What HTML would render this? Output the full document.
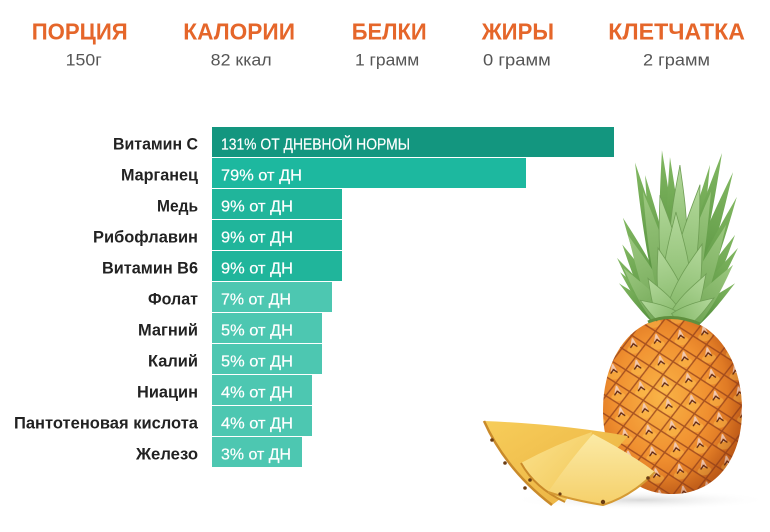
<!DOCTYPE html>
<html>
<head>
<meta charset="utf-8">
<style>
  html,body{margin:0;padding:0;background:#fff;}
  svg{display:block;}
</style>
</head>
<body>
<svg width="770" height="532" viewBox="0 0 770 532" xmlns="http://www.w3.org/2000/svg">
  <defs>
    <radialGradient id="body" cx="0.42" cy="0.45" r="0.62">
      <stop offset="0" stop-color="#f9b447"/>
      <stop offset="0.55" stop-color="#f09030"/>
      <stop offset="1" stop-color="#cf6419"/>
    </radialGradient>
    <radialGradient id="rim" cx="0.45" cy="0.45" r="0.55">
      <stop offset="0.75" stop-color="#7a2e0c" stop-opacity="0"/>
      <stop offset="1" stop-color="#7a2e0c" stop-opacity="0.25"/>
    </radialGradient>
    <pattern id="eyes" patternUnits="userSpaceOnUse" width="24" height="22" patternTransform="rotate(-10)">
      <ellipse cx="12" cy="14" rx="7" ry="4.5" fill="#ffc450" opacity="0.45"/>
      <path d="M12,0 L24,11 L12,22 L0,11 Z" fill="none" stroke="#93401a" stroke-width="1.4" opacity="0.8"/>
      <path d="M12,3 L9.5,10 M12,3 L14.5,10 M12,3 L12,11" stroke="#f1c8b2" stroke-width="1.2" fill="none"/>
      <path d="M8.5,12 L12,8.5 L15.5,12" stroke="#5a2410" stroke-width="1.3" fill="none"/>
    </pattern>
    <linearGradient id="leafD" x1="0" y1="1" x2="0" y2="0">
      <stop offset="0" stop-color="#4e8a38"/>
      <stop offset="1" stop-color="#82b862"/>
    </linearGradient>
    <linearGradient id="leafM" x1="0" y1="1" x2="0" y2="0">
      <stop offset="0" stop-color="#6ea452"/>
      <stop offset="1" stop-color="#9cc880"/>
    </linearGradient>
    <linearGradient id="leafL" x1="0" y1="1" x2="0" y2="0">
      <stop offset="0" stop-color="#86b96a"/>
      <stop offset="1" stop-color="#b4d99c"/>
    </linearGradient>
    <linearGradient id="sliceA" x1="0" y1="0" x2="1" y2="1">
      <stop offset="0" stop-color="#f7cd5a"/>
      <stop offset="1" stop-color="#eab040"/>
    </linearGradient>
    <linearGradient id="sliceB" x1="0" y1="0" x2="1" y2="1">
      <stop offset="0" stop-color="#fae28e"/>
      <stop offset="1" stop-color="#f3c654"/>
    </linearGradient>
    <linearGradient id="sliceC" x1="0" y1="0" x2="0" y2="1">
      <stop offset="0" stop-color="#fbeaa6"/>
      <stop offset="1" stop-color="#f5d06a"/>
    </linearGradient>
    <radialGradient id="shadow" cx="0.5" cy="0.5" r="0.5">
      <stop offset="0" stop-color="#cfcfcf" stop-opacity="0.8"/>
      <stop offset="1" stop-color="#ffffff" stop-opacity="0"/>
    </radialGradient>
    <clipPath id="bodyClip">
      <path d="M672,318 C715,318 742,360 742,410 C742,460 715,494 672,494 C628,494 603,460 603,410 C603,360 630,318 672,318 Z"/>
    </clipPath>
  </defs>

  <!-- Header -->
  <g font-family="'Liberation Sans', sans-serif" font-weight="bold" font-size="23" fill="#e5662a">
    <text x="31.7" y="39.3" textLength="96" lengthAdjust="spacingAndGlyphs">ПОРЦИЯ</text>
    <text x="183.3" y="39.3" textLength="111.7" lengthAdjust="spacingAndGlyphs">КАЛОРИИ</text>
    <text x="351.7" y="39.3" textLength="75" lengthAdjust="spacingAndGlyphs">БЕЛКИ</text>
    <text x="481.7" y="39.3" textLength="72.3" lengthAdjust="spacingAndGlyphs">ЖИРЫ</text>
    <text x="608.3" y="39.3" textLength="136.7" lengthAdjust="spacingAndGlyphs">КЛЕТЧАТКА</text>
  </g>
  <g font-family="'Liberation Sans', sans-serif" font-size="17" fill="#555">
    <text x="65.7" y="65.7" textLength="36" lengthAdjust="spacingAndGlyphs">150г</text>
    <text x="210.7" y="65.7" textLength="61" lengthAdjust="spacingAndGlyphs">82 ккал</text>
    <text x="355" y="65.7" textLength="64.3" lengthAdjust="spacingAndGlyphs">1 грамм</text>
    <text x="483" y="65.7" textLength="67.7" lengthAdjust="spacingAndGlyphs">0 грамм</text>
    <text x="643" y="65.7" textLength="67" lengthAdjust="spacingAndGlyphs">2 грамм</text>
  </g>

  <!-- Bars -->
  <rect x="212" y="127" width="402" height="30" fill="#13967f"/>
  <rect x="212" y="158" width="314" height="30" fill="#1db89f"/>
  <rect x="212" y="189" width="130" height="30" fill="#20b59b"/>
  <rect x="212" y="220" width="130" height="30" fill="#20b59b"/>
  <rect x="212" y="251" width="130" height="30" fill="#20b59b"/>
  <rect x="212" y="282" width="120" height="30" fill="#4dc7b1"/>
  <rect x="212" y="313" width="110" height="30" fill="#4dc7b1"/>
  <rect x="212" y="344" width="110" height="30" fill="#4dc7b1"/>
  <rect x="212" y="375" width="100" height="30" fill="#4dc7b1"/>
  <rect x="212" y="406" width="100" height="30" fill="#4dc7b1"/>
  <rect x="212" y="437" width="90" height="30" fill="#4dc7b1"/>

  <!-- Bar labels (white) -->
  <g font-family="'Liberation Sans', sans-serif" font-size="16" fill="#fff" stroke="#fff" stroke-width="0.2">
    <text x="221" y="149.3" textLength="189" lengthAdjust="spacingAndGlyphs">131% ОТ ДНЕВНОЙ НОРМЫ</text>
    <text x="221" y="180.3" textLength="81" lengthAdjust="spacingAndGlyphs">79% от ДН</text>
    <text x="221" y="211.3" textLength="72" lengthAdjust="spacingAndGlyphs">9% от ДН</text>
    <text x="221" y="242.3" textLength="72" lengthAdjust="spacingAndGlyphs">9% от ДН</text>
    <text x="221" y="273.3" textLength="72" lengthAdjust="spacingAndGlyphs">9% от ДН</text>
    <text x="221" y="304.3" textLength="70" lengthAdjust="spacingAndGlyphs">7% от ДН</text>
    <text x="221" y="335.3" textLength="72" lengthAdjust="spacingAndGlyphs">5% от ДН</text>
    <text x="221" y="366.3" textLength="72" lengthAdjust="spacingAndGlyphs">5% от ДН</text>
    <text x="221" y="397.3" textLength="72" lengthAdjust="spacingAndGlyphs">4% от ДН</text>
    <text x="221" y="428.3" textLength="72" lengthAdjust="spacingAndGlyphs">4% от ДН</text>
    <text x="221" y="459.3" textLength="70" lengthAdjust="spacingAndGlyphs">3% от ДН</text>
  </g>

  <!-- Category labels -->
  <g font-family="'Liberation Sans', sans-serif" font-weight="bold" font-size="17" fill="#222">
    <text x="113" y="149.3" textLength="85" lengthAdjust="spacingAndGlyphs">Витамин С</text>
    <text x="121" y="180.3" textLength="77" lengthAdjust="spacingAndGlyphs">Марганец</text>
    <text x="157" y="211.3" textLength="41" lengthAdjust="spacingAndGlyphs">Медь</text>
    <text x="93" y="242.3" textLength="105" lengthAdjust="spacingAndGlyphs">Рибофлавин</text>
    <text x="102" y="273.3" textLength="96" lengthAdjust="spacingAndGlyphs">Витамин В6</text>
    <text x="148" y="304.3" textLength="50" lengthAdjust="spacingAndGlyphs">Фолат</text>
    <text x="138" y="335.3" textLength="60" lengthAdjust="spacingAndGlyphs">Магний</text>
    <text x="148" y="366.3" textLength="50" lengthAdjust="spacingAndGlyphs">Калий</text>
    <text x="137" y="397.3" textLength="61" lengthAdjust="spacingAndGlyphs">Ниацин</text>
    <text x="14" y="428.3" textLength="184" lengthAdjust="spacingAndGlyphs">Пантотеновая кислота</text>
    <text x="136" y="459.3" textLength="62" lengthAdjust="spacingAndGlyphs">Железо</text>
  </g>

  <!-- Pineapple shadow -->
  <ellipse cx="640" cy="500" rx="130" ry="10" fill="url(#shadow)"/>

  <!-- Crown: dark outer leaves (wider) -->
  <g fill="url(#leafD)">
    <path transform="translate(660,320) rotate(-34.7)" d="M-8,0 C-8,-34 -2.5,-60 0,-75.5 C2.5,-60 8,-34 8,0 Z"/>
    <path transform="translate(662,322) rotate(-40)" d="M-8,0 C-8,-29 -2.5,-52 0,-65 C2.5,-52 8,-29 8,0 Z"/>
    <path transform="translate(664,310) rotate(-24)" d="M-9,0 C-9,-45 -3,-80 0,-101 C3,-80 9,-45 9,0 Z"/>
    <path transform="translate(663,318) rotate(-29)" d="M-9,0 C-9,-38 -3,-67 0,-84 C3,-67 9,-38 9,0 Z"/>
    <path transform="translate(666,300) rotate(-12.7)" d="M-9,0 C-9,-63 -3,-113 0,-141 C3,-113 9,-63 9,0 Z"/>
    <path transform="translate(668,300) rotate(-10.4)" d="M-9,0 C-9,-57 -3,-101 0,-127 C3,-101 9,-57 9,0 Z"/>
    <path transform="translate(670,290) rotate(-3.3)" d="M-9,0 C-9,-63 -3,-112 0,-140 C3,-112 9,-63 9,0 Z"/>
    <path transform="translate(676,290) rotate(-2.6)" d="M-9,0 C-9,-60 -3,-106 0,-133 C3,-106 9,-60 9,0 Z"/>
    <path transform="translate(682,300) rotate(11.7)" d="M-9,0 C-9,-62 -3,-110 0,-138 C3,-110 9,-62 9,0 Z"/>
    <path transform="translate(684,295) rotate(15)" d="M-9,0 C-9,-66 -3,-118 0,-147 C3,-118 9,-66 9,0 Z"/>
    <path transform="translate(686,305) rotate(19.5)" d="M-9,0 C-9,-63 -3,-113 0,-141 C3,-113 9,-63 9,0 Z"/>
    <path transform="translate(688,312) rotate(23)" d="M-9,0 C-9,-56 -3,-100 0,-125 C3,-100 9,-56 9,0 Z"/>
    <path transform="translate(689,318) rotate(29)" d="M-9,0 C-9,-43 -3,-76 0,-95 C3,-76 9,-43 9,0 Z"/>
    <path transform="translate(690,318) rotate(34.4)" d="M-8,0 C-8,-38 -2.5,-68 0,-85 C2.5,-68 8,-38 8,0 Z"/>
    <path transform="translate(690,322) rotate(36.5)" d="M-8,0 C-8,-30 -2.5,-54 0,-67 C2.5,-54 8,-30 8,0 Z"/>
    <path transform="translate(662,322) rotate(-48)" d="M-7,0 C-7,-25 -2,-45 0,-58 C2,-45 7,-25 7,0 Z"/>
    <path transform="translate(692,322) rotate(48)" d="M-7,0 C-7,-25 -2,-45 0,-58 C2,-45 7,-25 7,0 Z"/>
  </g>
  <!-- Crown: medium leaves -->
  <g fill="url(#leafM)">
    <path transform="translate(665,315) rotate(-24.8)" d="M-11,0 C-11,-40 -3,-70 0,-88 C3,-70 11,-40 11,0 Z"/>
    <path transform="translate(688,315) rotate(22.9)" d="M-11,0 C-11,-44 -3,-78 0,-98 C3,-78 11,-44 11,0 Z"/>
    <path transform="translate(670,300) rotate(-14)" d="M-11,0 C-11,-50 -3,-90 0,-112 C3,-90 11,-50 11,0 Z"/>
    <path transform="translate(684,300) rotate(14)" d="M-11,0 C-11,-50 -3,-90 0,-112 C3,-90 11,-50 11,0 Z"/>
    <path transform="translate(664,320) rotate(-38)" d="M-10,0 C-10,-30 -3,-52 0,-66 C3,-52 10,-30 10,0 Z"/>
    <path transform="translate(690,320) rotate(38)" d="M-10,0 C-10,-32 -3,-56 0,-70 C3,-56 10,-32 10,0 Z"/>
  </g>
  <!-- Crown: broad light inner leaves (back to front) -->
  <g fill="url(#leafL)" stroke="#6f9e55" stroke-width="0.8">
    <path transform="translate(678,250) rotate(1.3)" d="M-9,0 C-9,-38 -2.4,-68 0,-85 C2.4,-68 9,-38 9,0 Z"/>
    <path transform="translate(674,280) rotate(-9.4)" d="M-11,0 C-11,-39 -3,-69 0,-86 C3,-69 11,-39 11,0 Z"/>
    <path transform="translate(682,280) rotate(10.7)" d="M-11,0 C-11,-44 -3,-78 0,-97 C3,-78 11,-44 11,0 Z"/>
    <path transform="translate(677,300) rotate(-0.7)" d="M-15,0 C-15,-40 -4,-70 0,-88 C4,-70 15,-40 15,0 Z"/>
    <path transform="translate(676,312) rotate(-15.7)" d="M-14,0 C-14,-30 -4,-53 0,-66.5 C4,-53 14,-30 14,0 Z"/>
    <path transform="translate(680,312) rotate(18)" d="M-14,0 C-14,-32 -4,-57 0,-71.5 C4,-57 14,-32 14,0 Z"/>
    <path transform="translate(672,320) rotate(-30)" d="M-12,0 C-12,-22 -3,-38 0,-48 C3,-38 12,-22 12,0 Z"/>
    <path transform="translate(680,320) rotate(29.5)" d="M-12,0 C-12,-24 -3,-42 0,-53 C3,-42 12,-24 12,0 Z"/>
    <path transform="translate(675,322) rotate(-58)" d="M-10,0 C-10,-18 -3,-33 0,-41 C3,-33 10,-18 10,0 Z"/>
    <path transform="translate(677,322) rotate(57)" d="M-10,0 C-10,-20 -3,-35 0,-44 C3,-35 10,-20 10,0 Z"/>
  </g>

  <!-- Pineapple body -->
  <path d="M672,318 C715,318 742,360 742,410 C742,460 715,494 672,494 C628,494 603,460 603,410 C603,360 630,318 672,318 Z" fill="url(#body)"/>
  <g clip-path="url(#bodyClip)">
    <rect x="590" y="310" width="160" height="190" fill="url(#eyes)"/>
    <rect x="590" y="310" width="160" height="190" fill="url(#rim)"/>
  </g>
  <path d="M648,322 Q672,312 700,324" fill="none" stroke="#5f8f3e" stroke-width="3"/>

  <!-- Slices -->
  <path d="M484,421 Q560,424 628,436 Q600,470 552,505 Q512,478 484,421 Z" fill="url(#sliceA)"/>
  <path d="M484,421 Q506,470 552,505" fill="none" stroke="#c98a2a" stroke-width="2.5"/>
  <circle cx="492" cy="440" r="1.8" fill="#6b3d14"/>
  <circle cx="505" cy="463" r="1.8" fill="#6b3d14"/>
  <circle cx="525" cy="488" r="1.8" fill="#6b3d14"/>
  <path d="M521,463 Q556,444 592,432 Q585,470 565,502 Q535,488 521,463 Z" fill="url(#sliceB)"/>
  <path d="M521,463 Q535,488 565,502" fill="none" stroke="#c98a2a" stroke-width="2"/>
  <circle cx="530" cy="480" r="1.8" fill="#6b3d14"/>
  <path d="M593,434 Q628,452 655,472 Q632,496 603,505 Q572,500 548,492 Q570,460 593,434 Z" fill="url(#sliceC)"/>
  <path d="M655,472 Q632,496 603,505 Q572,500 548,492" fill="none" stroke="#d59a34" stroke-width="2"/>
  <circle cx="603" cy="502" r="2.2" fill="#6b3d14"/>
  <circle cx="648" cy="478" r="1.8" fill="#6b3d14"/>
  <circle cx="560" cy="494" r="1.6" fill="#6b3d14"/>
</svg>
</body>
</html>
